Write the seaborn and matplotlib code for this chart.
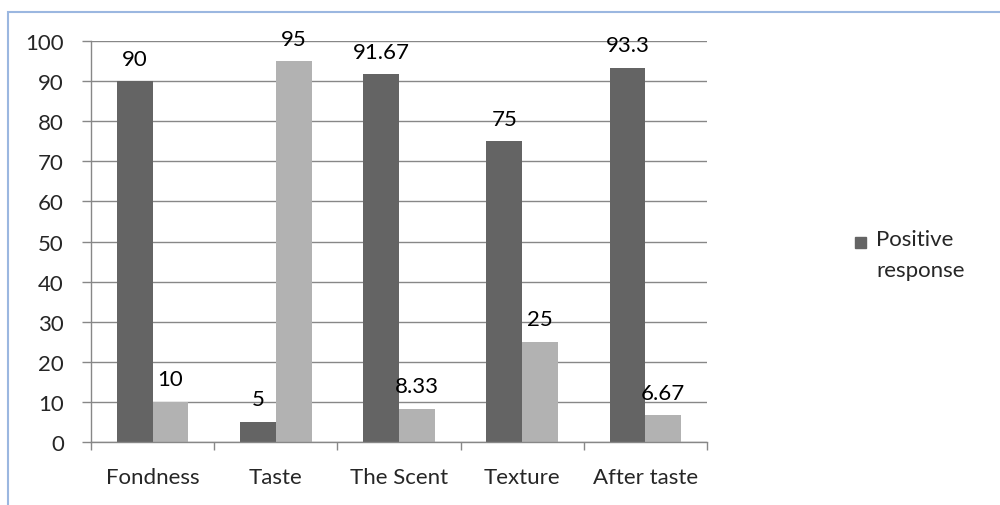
import pandas as pd
import numpy as np
import matplotlib.pyplot as plt
import seaborn as sns
from matplotlib.patches import Rectangle

# data
categories = ['Fondness', 'Taste', 'The Scent', 'Texture', 'After taste']
positive = [90, 5, 91.67, 75, 93.3]
negative = [10, 95, 8.33, 25, 6.67]
positive_labels = ['90', '5', '91.67', '75', '93.3']
negative_labels = ['10', '95', '8.33', '25', '6.67']
y_ticks = [0, 10, 20, 30, 40, 50, 60, 70, 80, 90, 100]

df = pd.DataFrame({
    'Item': categories * 2,
    'Value': positive + negative,
    'Series': ['Positive response'] * 5 + ['Negative response'] * 5,
})

sns.set_style('white')
plt.rcParams['font.family'] = ['Lato', 'DejaVu Sans']
fs = 16

fig = plt.figure(figsize=(10, 5.06), dpi=100)
ax = fig.add_axes([0.091, 0.1245, 0.616, 0.7925])

dark = '#646464'
light = '#b2b2b2'
grid = '#878787'

sns.barplot(data=df, x='Item', y='Value', hue='Series', order=categories,
            palette=[dark, light], width=0.58, linewidth=0, saturation=1,
            legend=False, ax=ax)

# data labels
for bars, labels in zip(ax.containers, [positive_labels, negative_labels]):
    for rect, lab in zip(bars, labels):
        ax.annotate(lab, (rect.get_x() + rect.get_width() / 2, rect.get_height()),
                    xytext=(0, 9), textcoords='offset points',
                    ha='center', va='bottom', fontsize=fs, color='black')

ax.set_xlim(-0.5, 4.5)
ax.set_ylim(0, 100)
ax.set_yticks(y_ticks)
ax.yaxis.grid(True, color=grid, linewidth=1)
ax.set_axisbelow(True)
ax.tick_params(axis='y', left=True, length=6.5, width=1, color=grid, pad=13, labelsize=fs)

# category boundary ticks, labels at centres
ax.set_xticks(np.arange(-0.5, 5, 1))
ax.set_xticklabels([])
ax.set_xticks(np.arange(5), minor=True)
ax.set_xticklabels(categories, minor=True, fontsize=fs)
ax.tick_params(axis='x', which='major', bottom=True, length=6, width=1,
               color=grid, direction='out')
ax.tick_params(axis='x', which='minor', bottom=True, length=0, pad=18)

for side in ['top', 'right']:
    ax.spines[side].set_visible(False)
for side in ['left', 'bottom']:
    ax.spines[side].set_color(grid)
    ax.spines[side].set_linewidth(1)
ax.set_xlabel('')
ax.set_ylabel('')

# legend (only the first series is shown)
fig.patches.append(Rectangle((0.855, 1 - 249 / 506), 0.011, 0.022,
                             transform=fig.transFigure, color=dark))
fig.text(0.876, 1 - 240 / 506, 'Positive', fontsize=fs, va='center')
fig.text(0.876, 1 - 271 / 506, 'response', fontsize=fs, va='center')

# chart area border
fig.patches.append(Rectangle((0.008, -0.05), 1.1, 1 - 13 / 506 + 0.05,
                             transform=fig.transFigure, fill=False,
                             edgecolor='#9bb7e0', linewidth=1.5))

fig.savefig('out.png', dpi=100)
